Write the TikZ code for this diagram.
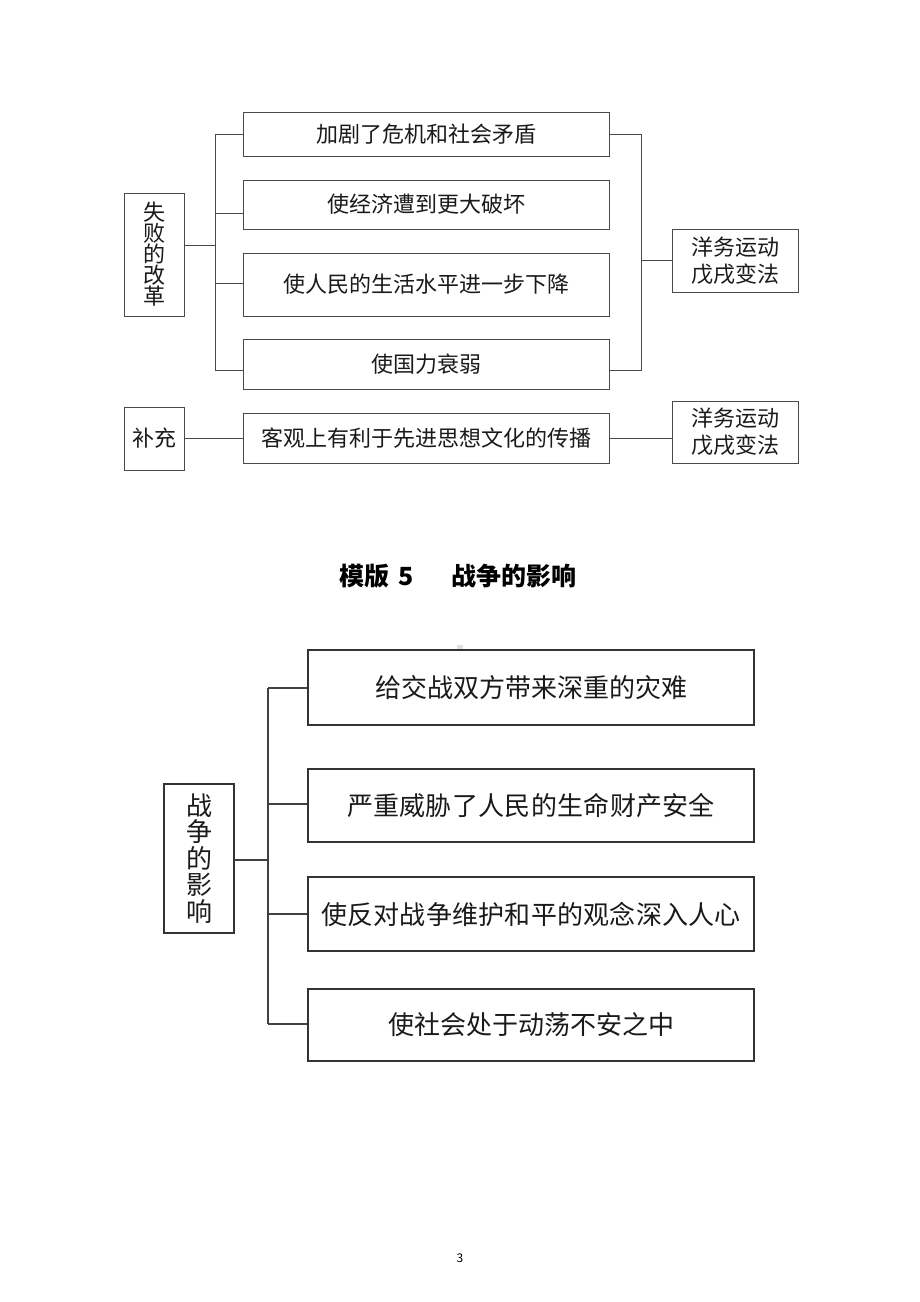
\documentclass[tikz,border=0pt]{standalone}
\usepackage{fontspec}
\setmainfont{Noto Sans CJK SC}
\definecolor{lc}{HTML}{4A4A4A}
\definecolor{tc}{HTML}{1A1A1A}
\makeatletter
\newcommand\spreadto[2]{\hbox to #1{\def\trk@k{\hfil}\trk@first#2\relax}}
\def\trk@first#1{#1\trk@rest}
\def\trk@rest#1{\ifx#1\relax\else\trk@k#1\expandafter\trk@rest\fi}
\makeatother
\tikzset{
  box/.style={draw=lc, line width=1pt, inner sep=0pt, align=center, text=tc,
    font=\fontsize{22}{27}\selectfont},
  bbox/.style={box, draw=black!80, line width=1.3pt, font=\fontsize{26}{26.4}\selectfont},
  conn/.style={draw=lc, line width=1pt},
  bconn/.style={draw=black!75, line width=1.2pt},
}
\begin{document}
\begin{tikzpicture}[x=1pt,y=-1pt]
\fill[white] (0,0) rectangle (920,1302);
\useasboundingbox (0,0) rectangle (920,1302);

% ---------- top section ----------
\node[box, minimum width=60pt, minimum height=123pt, font=\fontsize{22}{21}\selectfont] (L1) at (154,254.5) {失\\败\\的\\改\\革};
\node[box, minimum width=366pt, minimum height=44pt] (T1) at (426,134) {加剧了危机和社会矛盾};
\node[box, minimum width=366pt, minimum height=49pt] (T2) at (426,204.5) {使经济遭到更大破坏};
\node[box, minimum width=366pt, minimum height=63pt] (T3) at (426,284.5) {使人民的生活水平进一步下降};
\node[box, minimum width=366pt, minimum height=50pt] (T4) at (426,364) {使国力衰弱};
\node[box, minimum width=126pt, minimum height=63pt] (R1) at (735,260.5) {洋务运动\\戊戌变法};

\node[box, minimum width=60pt, minimum height=63pt] (B1) at (154,438.5) {补充};
\node[box, minimum width=366pt, minimum height=50pt] (T5) at (426,438) {客观上有利于先进思想文化的传播};
\node[box, minimum width=126pt, minimum height=62pt] (R2) at (735,432) {洋务运动\\戊戌变法};

\coordinate (jl) at (215,245);
\coordinate (a1) at (215,134);
\coordinate (a2) at (215,213);
\coordinate (a3) at (215,283);
\coordinate (a4) at (215,370);
\draw[conn] (L1.east |- jl) -- (jl);
\draw[conn] (a1) -- (a4);
\draw[conn] (a1) -- (T1.west |- a1);
\draw[conn] (a2) -- (T2.west |- a2);
\draw[conn] (a3) -- (T3.west |- a3);
\draw[conn] (a4) -- (T4.west |- a4);

\coordinate (b1) at (641,134);
\coordinate (b4) at (641,370);
\coordinate (br) at (641,260);
\draw[conn] (T1.east |- b1) -- (b1) -- (b4) -- (T4.east |- b4);
\draw[conn] (br) -- (R1.west |- br);

\coordinate (c) at (0,438);
\draw[conn] (B1.east |- c) -- (T5.west |- c);
\draw[conn] (T5.east |- c) -- (R2.west |- c);

% ---------- title ----------
\node[anchor=base west, inner sep=0pt, text=black, font=\fontsize{25}{25}\bfseries\selectfont] (title1) at (339,585) {模版\hspace{9pt}5};
\node[anchor=base west, inner sep=0pt, text=black, font=\fontsize{25}{25}\bfseries\selectfont] (title2) at (451,585) {战争的影响};

% small grey mark
\fill[gray!25] (457,645) rectangle (463,650);

% ---------- bottom section ----------
\node[bbox, minimum width=70pt, minimum height=149pt] (W) at (199,858.5) {战\\争\\的\\影\\响};
\node[bbox, minimum width=446pt, minimum height=75pt] (K1) at (531,687.5) {给交战双方带来深重的灾难};
\node[bbox, minimum width=446pt, minimum height=73pt] (K2) at (531,805.5) {\spreadto{368pt}{严重威胁了人民的生命财产安全}};
\node[bbox, minimum width=446pt, minimum height=74pt] (K3) at (531,914) {\spreadto{420pt}{使反对战争维护和平的观念深入人心}};
\node[bbox, minimum width=446pt, minimum height=72pt] (K4) at (531,1025) {使社会处于动荡不安之中};

\coordinate (wj) at (268,860);
\coordinate (k1) at (268,688);
\coordinate (k2) at (268,804);
\coordinate (k3) at (268,914);
\coordinate (k4) at (268,1024);
\draw[bconn] (W.east |- wj) -- (wj);
\draw[bconn] (k1) -- (k4);
\draw[bconn] (k1) -- (K1.west |- k1);
\draw[bconn] (k2) -- (K2.west |- k2);
\draw[bconn] (k3) -- (K3.west |- k3);
\draw[bconn] (k4) -- (K4.west |- k4);

% page number
\node[inner sep=0pt, font=\fontsize{12}{12}\selectfont] (pg) at (460,1258) {3};
\end{tikzpicture}
\end{document}
